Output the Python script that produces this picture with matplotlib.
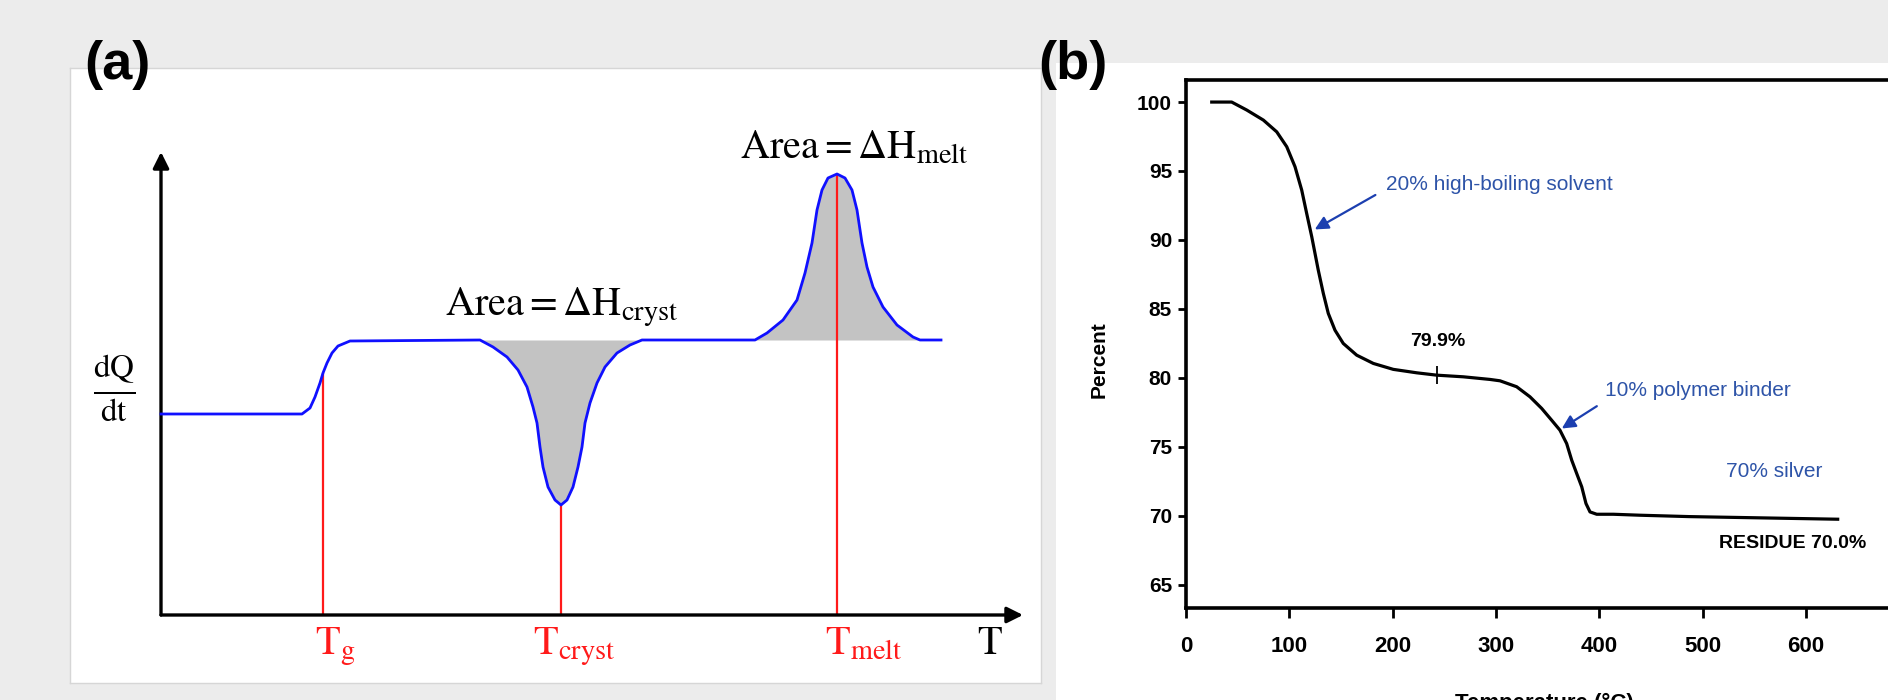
import matplotlib.pyplot as plt
from matplotlib.patches import Rectangle

plt.rcParams['font.family'] = ['Liberation Sans', 'DejaVu Sans']
plt.rcParams['mathtext.fontset'] = 'stix'

# ---- panel (a): DSC schematic (arbitrary units) ----
dsc_T = [0, 14.1, 14.9, 15.4, 15.9, 16.2, 16.6, 17.1, 17.7, 18.9,
         31.9, 33.2, 34.6, 35.7, 36.6, 37.2, 37.6, 37.9, 38.2, 38.7, 39.4, 40.0,
         40.6, 41.2, 41.7, 42.1, 42.4, 42.9, 43.6, 44.4, 45.6, 46.9, 48.1,
         59.4, 60.6, 62.2, 63.6, 64.4, 65.1, 65.6, 66.1, 66.7, 67.6,
         68.4, 69.1, 69.6, 70.1, 70.6, 71.2, 72.2, 73.6, 75.2, 75.9, 78.0]
dsc_q = [20.1, 20.1, 20.7, 21.8, 23.2, 24.2, 25.2, 26.2, 26.9, 27.4,
         27.5, 26.8, 25.8, 24.5, 22.8, 20.8, 19.2, 16.8, 14.8, 12.8, 11.5, 11.0,
         11.5, 12.8, 14.8, 16.8, 19.2, 21.2, 23.2, 24.8, 26.2, 27.0, 27.5,
         27.5, 28.2, 29.5, 31.5, 34.2, 37.2, 40.5, 42.5, 43.7, 44.1,
         43.7, 42.5, 40.5, 37.2, 34.8, 32.8, 30.8, 29.0, 27.8, 27.5, 27.5]
upper_baseline = 27.5
event_T = [16.2, 40.0, 67.6]
event_q = [24.2, 11.0, 44.1]
event_labels = [r'$\mathrm{T_g}$', r'$\mathrm{T_{cryst}}$', r'$\mathrm{T_{melt}}$']
event_label_x = [15.4, 37.2, 66.4]

# ---- panel (b): TGA curve ----
tga_T = [24.9, 44.2, 58.8, 74.9, 87.8, 97.5, 105.5, 112.0, 116.8, 121.7, 128.0,
         132.9, 137.7, 144.2, 152.2, 165.2, 181.3, 200.6, 223.3, 242.6, 268.4,
         294.2, 303.9, 320.0, 332.9, 344.2, 353.9, 361.9, 368.4, 373.3, 378.1,
         383.0, 387.1, 391.0, 397.5, 413.6, 439.4, 486.9, 630.7]
tga_pct = [100.0, 100.0, 99.42, 98.69, 97.84, 96.76, 95.31, 93.61, 91.92, 90.23, 87.81,
           86.12, 84.67, 83.45, 82.49, 81.64, 81.04, 80.61, 80.36, 80.19, 80.07,
           79.88, 79.78, 79.35, 78.62, 77.78, 76.92, 76.20, 75.23, 74.02, 73.06,
           72.09, 70.88, 70.27, 70.10, 70.10, 70.03, 69.93, 69.74]
x_ticks = [0, 100, 200, 300, 400, 500, 600]
y_ticks = [65, 70, 75, 80, 85, 90, 95, 100]
plateau_mark = (242.6, 80.19)

W, H = 1888, 700
fig = plt.figure(figsize=(W / 100, H / 100), dpi=100)
fig.patch.set_facecolor('#ececec')

# panel (a) axes doubles as the white box
ax = fig.add_axes([70 / W, 1 - 683 / H, 971 / W, 615 / H])
ax.set_facecolor('white')
for s in ax.spines.values():
    s.set_color('#d6d6d6')
    s.set_linewidth(1)
ax.set_xticks([])
ax.set_yticks([])
ax.set_xlim(-9.1, 88.0)
ax.set_ylim(-6.8, 54.7)

ax.fill_between(dsc_T, dsc_q, upper_baseline, where=[t > 30 for t in dsc_T],
                color='#c3c3c3', linewidth=0, interpolate=True)
ax.vlines(event_T, 0, event_q, color='#ff1a1a', lw=1.6, zorder=3)
ax.plot(dsc_T, dsc_q, color='#1010ff', lw=2.0, zorder=4, solid_joinstyle='round')

arrow_kw = dict(arrowstyle='-|>', lw=2.4, color='black', mutation_scale=24,
                shrinkA=0, shrinkB=0)
ax.annotate('', xy=(0, 46.3), xytext=(0, 0), arrowprops=arrow_kw)
ax.annotate('', xy=(86.2, 0), xytext=(0, 0), arrowprops=arrow_kw)

for x, lab in zip(event_label_x, event_labels):
    ax.text(x, -3.9, lab, color='#ff1a1a', fontsize=29, va='baseline', ha='left')
ax.text(81.6, -3.9, r'$\mathrm{T}$', fontsize=29, va='baseline', ha='left')
ax.text(28.4, 30.0, r'$\mathrm{Area = \Delta H_{cryst}}$', fontsize=29,
        va='baseline', ha='left')
ax.text(57.9, 45.7, r'$\mathrm{Area = \Delta H_{melt}}$', fontsize=29,
        va='baseline', ha='left')
ax.text(-4.7, 22.7, r'$\frac{\mathrm{dQ}}{\mathrm{dt}}$', fontsize=34,
        va='center', ha='center')

# panel (b) white box
fig.add_artist(Rectangle((1056 / W, 0), 1 - 1056 / W, 1 - 63 / H,
                         transform=fig.transFigure, facecolor='white',
                         edgecolor='none', zorder=0))

ax2 = fig.add_axes([1186 / W, 1 - 608 / H, (W - 1186) / W, (608 - 80) / H])
ax2.patch.set_alpha(0)
ax2.set_xlim(0, 679.4)
ax2.set_ylim(63.3, 101.6)
ax2.spines['right'].set_visible(False)
for k in ['left', 'top', 'bottom']:
    ax2.spines[k].set_linewidth(2.6)
ax2.plot(tga_T, tga_pct, color='black', lw=2.3, solid_joinstyle='round')
ax2.plot([plateau_mark[0]], [plateau_mark[1]], marker='|', color='black',
         markersize=13, mew=1.3)
ax2.set_xticks(x_ticks, [str(v) for v in x_ticks], fontweight='bold', fontsize=16)
ax2.set_yticks(y_ticks, [str(v) for v in y_ticks], fontweight='bold', fontsize=15)
ax2.tick_params(axis='x', direction='out', length=7, width=2, pad=13)
ax2.tick_params(axis='y', direction='out', length=6, width=2, pad=4)

blue_txt = '#2e54a8'
blue_arr = '#1c3fb0'
ax2.text(193.6, 94.0, '20% high-boiling solvent', color=blue_txt, fontsize=15,
         va='center', ha='left')
ax2.annotate('', xy=(124.6, 90.76), xytext=(183.3, 93.26),
             arrowprops=dict(arrowstyle='-|>', lw=1.6, color=blue_arr,
                             mutation_scale=20, shrinkA=0, shrinkB=0))
ax2.text(405.6, 79.06, '10% polymer binder', color=blue_txt, fontsize=15,
         va='center', ha='left')
ax2.annotate('', xy=(363.7, 76.32), xytext=(397.6, 77.94),
             arrowprops=dict(arrowstyle='-|>', lw=1.6, color=blue_arr,
                             mutation_scale=20, shrinkA=0, shrinkB=0))
ax2.text(522.6, 73.2, '70% silver', color=blue_txt, fontsize=15,
         va='center', ha='left')
ax2.text(243.5, 82.65, '79.9%', fontsize=14, fontweight='bold',
         va='center', ha='center')
ax2.text(516, 68.0, 'RESIDUE 70.0%', fontsize=14, fontweight='bold',
         va='center', ha='left')

fig.text(1099 / W, 1 - 360 / H, 'Percent', rotation=90, fontsize=15,
         fontweight='bold', ha='center', va='center')
fig.text(1544 / W, 1 - 693 / H, 'Temperature (°C)', fontsize=16,
         fontweight='bold', ha='center', va='top')

fig.text(84 / W, 1 - 40 / H, '(a)', fontsize=39, fontweight='bold',
         ha='left', va='top')
fig.text(1038 / W, 1 - 40 / H, '(b)', fontsize=39, fontweight='bold',
         ha='left', va='top')

fig.savefig('out.png', dpi=100, facecolor=fig.get_facecolor())
